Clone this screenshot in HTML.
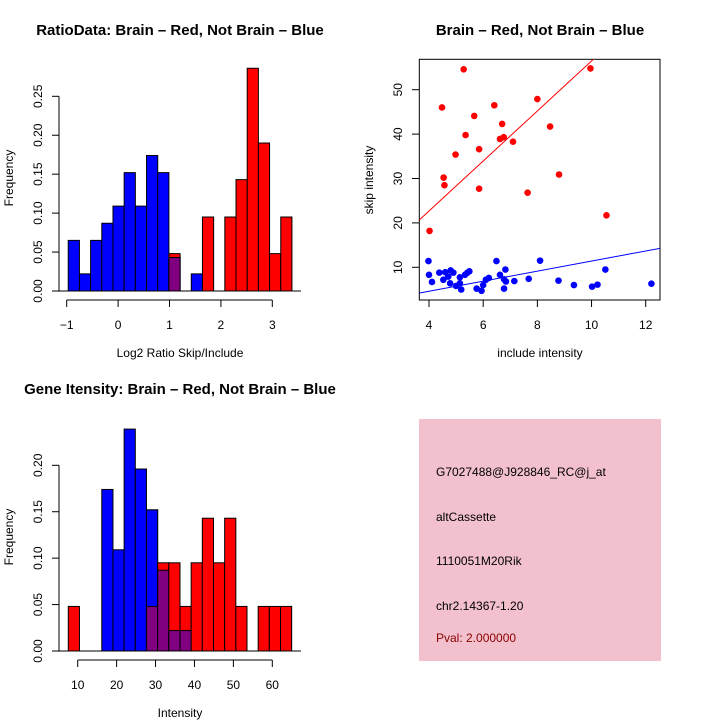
<!DOCTYPE html>
<html><head><meta charset="utf-8"><style>
body{margin:0;background:#fff}
svg{display:block;font-family:"Liberation Sans",sans-serif}
</style></head><body>
<svg id="s" width="720" height="720" viewBox="0 0 720 720">
<rect x="0" y="0" width="720" height="720" fill="#fff"/>
<text x="180" y="35" font-size="15" font-weight="bold" text-anchor="middle">RatioData: Brain – Red, Not Brain – Blue</text>
<text x="540" y="35" font-size="15" font-weight="bold" text-anchor="middle">Brain – Red, Not Brain – Blue</text>
<text x="180" y="394" font-size="15" font-weight="bold" text-anchor="middle">Gene Itensity: Brain – Red, Not Brain – Blue</text>
<text x="180" y="357" font-size="12" text-anchor="middle">Log2 Ratio Skip/Include</text>
<text x="13" y="178" font-size="12" text-anchor="middle" transform="rotate(-90 13 178)">Frequency</text>
<text x="180" y="717" font-size="12" text-anchor="middle">Intensity</text>
<text x="13" y="537" font-size="12" text-anchor="middle" transform="rotate(-90 13 537)">Frequency</text>
<text x="540" y="357" font-size="12" text-anchor="middle">include intensity</text>
<text x="373" y="180" font-size="12" text-anchor="middle" transform="rotate(-90 373 180)">skip intensity</text>
<g>
<rect x="419" y="419" width="242" height="242" fill="#f2c1cd"/>
<text x="436" y="476" font-size="12">G7027488@J928846_RC@j_at</text>
<text x="436" y="521" font-size="12">altCassette</text>
<text x="436" y="565" font-size="12">1110051M20Rik</text>
<text x="436" y="610" font-size="12">chr2.14367-1.20</text>
<text x="436" y="642" font-size="12" fill="#8b0000">Pval: 2.000000</text>
</g>
</svg>
<script>
// Ratio histogram data
const ratioRed = [0,0,0,0,0,0,0,0,0,0.048,0,0,0.095,0,0.095,0.143,0.286,0.190,0.048,0.095];
const ratioBlue = [0.065,0.022,0.065,0.087,0.109,0.152,0.109,0.174,0.152,0.043,0,0.022,0,0,0,0,0,0,0,0];
const ratioBinStart = -0.97, ratioBinWidth = 0.2176;
const ratioXTicks = [-1,0,1,2,3];
const ratioYTicks = [0,0.05,0.10,0.15,0.20,0.25];
// Intensity histogram data
const intRed = [0.048,0,0,0,0,0,0,0.048,0.095,0.095,0.048,0.095,0.143,0.095,0.143,0.048,0,0.048,0.048,0.048];
const intBlue = [0,0,0,0.174,0.109,0.239,0.196,0.152,0.087,0.022,0.022,0,0,0,0,0,0,0,0,0];
const intBinStart = 7.58, intBinWidth = 2.87;
const intXTicks = [10,20,30,40,50,60];
const intYTicks = [0,0.05,0.10,0.15,0.20];
// Scatter data
const redX = [5.28,4.48,6.41,5.67,8.0,9.96,6.70,5.35,8.47,6.62,6.76,7.10,5.85,4.98,4.54,4.57,5.85,8.80,7.64,10.55,4.02];
const redY = [54.6,46.0,46.5,44.1,47.9,54.8,42.3,39.8,41.7,38.9,39.3,38.3,36.6,35.4,30.2,28.5,27.7,30.9,26.8,21.7,18.2];
const blueX = [3.98,4.0,4.11,4.38,4.53,4.6,4.71,4.8,4.9,4.78,5.0,5.14,5.19,5.14,5.33,5.42,5.49,5.76,5.94,6.0,6.1,6.21,6.49,6.62,6.77,6.82,6.84,6.77,7.15,7.68,8.1,8.78,9.35,10.02,10.22,10.51,12.21];
const blueY = [11.4,8.3,6.7,8.8,7.2,8.9,7.9,9.3,8.8,6.4,5.8,7.75,5.0,6.4,8.3,8.8,9.1,5.2,4.7,6.0,7.2,7.6,11.4,8.3,7.3,9.5,6.8,5.2,6.9,7.4,11.5,7.0,6.0,5.65,6.1,9.5,6.3];
const redFit = [3.65,20.7,10.2,57.6];
const blueFit = [3.65,4.2,12.55,14.3];
const scXTicks = [4,6,8,10,12];
const scYTicks = [10,20,30,40,50];

const NS='http://www.w3.org/2000/svg', svg=document.getElementById('s');
function mk(tag,attrs,parent){const e=document.createElementNS(NS,tag);for(const k in attrs)e.setAttribute(k,attrs[k]);(parent||svg).appendChild(e);return e;}

function hist(red,blue,start,w,xs,ys,xTicks,yTicks,axisY,prefix,xfmt,yfmt){
  const g=mk('g',{});
  
  
  for(let i=0;i<red.length;i++){
    const x0=xs(start+i*w), x1=xs(start+(i+1)*w);
    const r=red[i], b=blue[i];
    if(b>0){const e=mk('rect',{x:x0,y:ys(b),width:x1-x0,height:ys(0)-ys(b),fill:'#0000ff',stroke:'#000','stroke-width':1},g);
      
      }
    if(r>0){const e=mk('rect',{x:x0,y:ys(r),width:x1-x0,height:ys(0)-ys(r),fill:'#ff0000',stroke:'#000','stroke-width':1},g);
      
      }
    if(r>0&&b>0){const m=Math.min(r,b);
      if(b>r){const e=mk('rect',{x:x0,y:ys(b),width:x1-x0,height:ys(0)-ys(b),fill:'#0000ff',stroke:'#000','stroke-width':1},g);
        
        }
      const e=mk('rect',{x:x0,y:ys(m),width:x1-x0,height:ys(0)-ys(m),fill:'#800080',stroke:'#000','stroke-width':1},g);
      
      }
  }
  const ya=mk('line',{x1:59,x2:59,y1:ys(yTicks[0]),y2:ys(yTicks[yTicks.length-1]),stroke:'#000'},g);
  
  
  yTicks.forEach(t=>{mk('line',{x1:52,x2:59,y1:ys(t),y2:ys(t),stroke:'#000'},g);
    const tx=mk('text',{x:42,y:ys(t),'font-size':12,'text-anchor':'middle',transform:`rotate(-90 42 ${ys(t)})`},g);
    tx.textContent=yfmt(t);
    
    });
  mk('line',{x1:59,x2:301,y1:ys(0),y2:ys(0),stroke:'#000'},g);
  const xa=mk('line',{x1:xs(xTicks[0]),x2:xs(xTicks[xTicks.length-1]),y1:axisY,y2:axisY,stroke:'#000'},g);
  
  
  xTicks.forEach(t=>{mk('line',{x1:xs(t),x2:xs(t),y1:axisY,y2:axisY+7,stroke:'#000'},g);
    const tx=mk('text',{x:xs(t),y:axisY+29,'font-size':12,'text-anchor':'middle'},g);
    tx.textContent=xfmt(t);
    
    });
}
const r_xs=v=>66.7+(v+1)*51.4, r_ys=v=>291-v*778.8;
hist(ratioRed,ratioBlue,ratioBinStart,ratioBinWidth,r_xs,r_ys,ratioXTicks,ratioYTicks,300,'ratio',t=>t<0?'\u2212'+(-t):String(t),t=>t.toFixed(2));
const i_xs=v=>77.7+(v-10)*3.892, i_ys=v=>651-v*928.5;
hist(intRed,intBlue,intBinStart,intBinWidth,i_xs,i_ys,intXTicks,intYTicks,660,'intensity',t=>String(t),t=>t.toFixed(2));

const s_xs=v=>429+(v-4)*27.09, s_ys=v=>267.3-(v-10)*4.44;
const sg=mk('g',{});


const cp=mk('clipPath',{id:'sc'},sg);mk('rect',{x:419.3,y:59.3,width:240.7,height:240.7},cp);
const box=mk('rect',{x:419.3,y:59.3,width:240.7,height:240.7,fill:'none',stroke:'#000'},sg);


const rl=mk('line',{x1:s_xs(redFit[0]),y1:s_ys(redFit[1]),x2:s_xs(redFit[2]),y2:s_ys(redFit[3]),stroke:'#ff0000','clip-path':'url(#sc)'},sg);


const bl=mk('line',{x1:s_xs(blueFit[0]),y1:s_ys(blueFit[1]),x2:s_xs(blueFit[2]),y2:s_ys(blueFit[3]),stroke:'#0000ff','clip-path':'url(#sc)'},sg);


redX.forEach((x,i)=>{const c=mk('circle',{cx:s_xs(x),cy:s_ys(redY[i]),r:3.3,fill:'#ff0000'},sg);
  
  });
blueX.forEach((x,i)=>{const c=mk('circle',{cx:s_xs(x),cy:s_ys(blueY[i]),r:3.3,fill:'#0000ff'},sg);
  
  });
scXTicks.forEach(t=>{mk('line',{x1:s_xs(t),x2:s_xs(t),y1:300,y2:307,stroke:'#000'},sg);
  const tx=mk('text',{x:s_xs(t),y:329,'font-size':12,'text-anchor':'middle'},sg);tx.textContent=t;
  
  });
scYTicks.forEach(t=>{mk('line',{x1:412,x2:419.3,y1:s_ys(t),y2:s_ys(t),stroke:'#000'},sg);
  const tx=mk('text',{x:402,y:s_ys(t),'font-size':12,'text-anchor':'middle',transform:`rotate(-90 402 ${s_ys(t)})`},sg);tx.textContent=t;
  
  });
</script>
</body></html>
